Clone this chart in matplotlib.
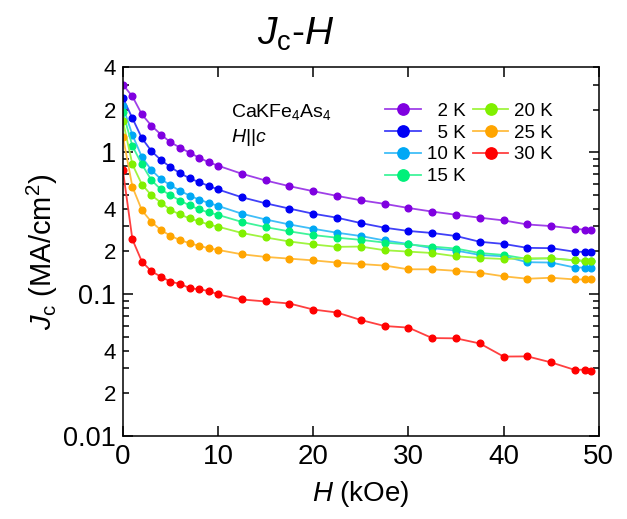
import matplotlib
matplotlib.use("Agg")
import matplotlib.pyplot as plt
import numpy as np
from matplotlib.colors import to_rgb
from matplotlib.ticker import FixedLocator, FuncFormatter

plt.rcParams['font.family'] = ['Liberation Sans', 'DejaVu Sans']
plt.rcParams['mathtext.fontset'] = 'custom'
plt.rcParams['mathtext.rm'] = 'Liberation Sans'
plt.rcParams['mathtext.it'] = 'Liberation Sans:italic'

# field (kOe)
field = [0, 1, 2, 3, 4, 5, 6, 7, 8, 9, 10, 12.5, 15, 17.5, 20, 22.5,
         25, 27.5, 30, 32.5, 35, 37.5, 40, 42.5, 45, 47.5, 48.5, 49.2]

# Jc (MA/cm^2) per temperature
jc_2K = [3.0, 2.48, 1.85, 1.54, 1.335, 1.177, 1.08, 0.995, 0.917, 0.853, 0.805,
         0.706, 0.633, 0.577, 0.532, 0.493,
         0.459, 0.433, 0.405, 0.382, 0.363, 0.346, 0.331, 0.310, 0.302, 0.289, 0.285, 0.284]
jc_5K = [2.42, 1.74, 1.257, 1.02, 0.882, 0.787, 0.713, 0.657, 0.616, 0.581, 0.547,
         0.482, 0.437, 0.401, 0.369, 0.346,
         0.317, 0.294, 0.279, 0.270, 0.257, 0.234, 0.226, 0.212, 0.211, 0.199, 0.199, 0.199]
jc_10K = [2.11, 1.327, 0.926, 0.749, 0.647, 0.586, 0.535, 0.496, 0.464, 0.440, 0.419,
          0.369, 0.336, 0.310, 0.289, 0.271,
          0.257, 0.239, 0.226, 0.211, 0.203, 0.189, 0.185, 0.168, 0.167, 0.154, 0.154, 0.154]
jc_15K = [1.91, 1.108, 0.822, 0.636, 0.547, 0.498, 0.457, 0.423, 0.396, 0.377, 0.362,
          0.323, 0.297, 0.277, 0.261, 0.250,
          0.2415, 0.231, 0.224, 0.2165, 0.2096, 0.195, 0.189, 0.177, 0.179, 0.173, 0.172, 0.172]
jc_20K = [1.667, 0.822, 0.593, 0.498, 0.442, 0.392, 0.365, 0.342, 0.326, 0.310, 0.299,
          0.270, 0.251, 0.235, 0.224, 0.2156,
          0.2165, 0.204, 0.1995, 0.195, 0.185, 0.180, 0.177, 0.179, 0.179, 0.173, 0.172, 0.172]
jc_25K = [1.292, 0.571, 0.390, 0.323, 0.283, 0.258, 0.2404, 0.229, 0.219, 0.211, 0.205,
          0.191, 0.183, 0.178, 0.173, 0.167,
          0.163, 0.159, 0.1497, 0.1497, 0.146, 0.1416, 0.1336, 0.1284, 0.1305, 0.127, 0.127, 0.127]
jc_30K = [0.749, 0.243, 0.1695, 0.1449, 0.1327, 0.1223, 0.1183, 0.1104, 0.108, 0.1055, 0.0995,
          0.0917, 0.0888, 0.0859, 0.0779, 0.0742,
          0.0657, 0.0596, 0.0581, 0.0490, 0.0488, 0.0449, 0.0363, 0.0364, 0.0330, 0.0292, 0.0294, 0.0288]

labels = ['  2 K', '  5 K', '10 K', '15 K', '20 K', '25 K', '30 K']
colors = ['#7F00E0', '#0000F5', '#00A8F5', '#00F07A', '#80F000', '#FFA500', '#FF0000']
series = [jc_2K, jc_5K, jc_10K, jc_15K, jc_20K, jc_25K, jc_30K]


def lighten(c, f=0.25):
    r, g, b = to_rgb(c)
    return (r + (1 - r) * f, g + (1 - g) * f, b + (1 - b) * f)


fig = plt.figure(figsize=(6.27, 5.19), dpi=100)
ax = fig.add_axes([0.196, 0.160, 0.759, 0.711])

for jc, c, lab in zip(series, colors, labels):
    ax.plot(field, jc, '-o', color=lighten(c), mfc=c, mec=c, ms=4.8, lw=1.3, label=lab)

ax.set_yscale('log')
ax.set_xlim(0, 50)
ax.set_ylim(0.01, 4)
ax.set_xticks([0, 10, 20, 30, 40, 50])

ax.yaxis.set_major_locator(FixedLocator([0.01, 0.1, 1]))
ax.yaxis.set_major_formatter(FuncFormatter(lambda v, p: {0.01: '0.01', 0.1: '0.1', 1: '1'}.get(round(v, 3), '')))
minor_vals = [m * 10.0 ** e for e in (-2, -1, 0) for m in range(2, 10)]
minor_vals = [v for v in minor_vals if v <= 4.0001]
ax.yaxis.set_minor_locator(FixedLocator(minor_vals))


def minor_fmt(v, pos):
    m = v / 10 ** np.floor(np.log10(v) + 1e-9)
    if abs(m - 2) < 0.01 or abs(m - 4) < 0.01:
        return str(int(round(m)))
    return ''


ax.yaxis.set_minor_formatter(FuncFormatter(minor_fmt))

ax.tick_params(which='both', direction='in', top=True, right=True, width=1.1)
ax.tick_params(which='major', length=7.5)
ax.tick_params(which='minor', length=4)
ax.tick_params(axis='x', which='major', labelsize=20, pad=6)
ax.tick_params(axis='y', which='major', labelsize=19.5, pad=5)
ax.tick_params(axis='y', which='minor', labelsize=16, pad=5)
for s in ax.spines.values():
    s.set_linewidth(1.1)

ax.set_xlabel('$H$ (kOe)', fontsize=20, labelpad=6)
ax.set_ylabel(r'$J_\mathrm{c}$ (MA/cm$^2$)', fontsize=21, labelpad=2)

fig.text(0.471, 0.933, r'$J_\mathrm{c}$-$H$', fontsize=28, ha='center', va='center')

ax.text(0.228, 0.878, r'CaKFe$_4$As$_4$', transform=ax.transAxes, fontsize=14, va='center')
ax.text(0.228, 0.808, r'$H$||$c$', transform=ax.transAxes, fontsize=14, va='center')

ax.legend(loc='upper left', bbox_to_anchor=(0.52, 0.944), ncol=2, fontsize=13.5,
          frameon=False, markerscale=1.7, handlelength=1.9, handletextpad=0.3,
          columnspacing=0.4, labelspacing=0.25, borderpad=0.3)

fig.savefig('out.png', dpi=100)
